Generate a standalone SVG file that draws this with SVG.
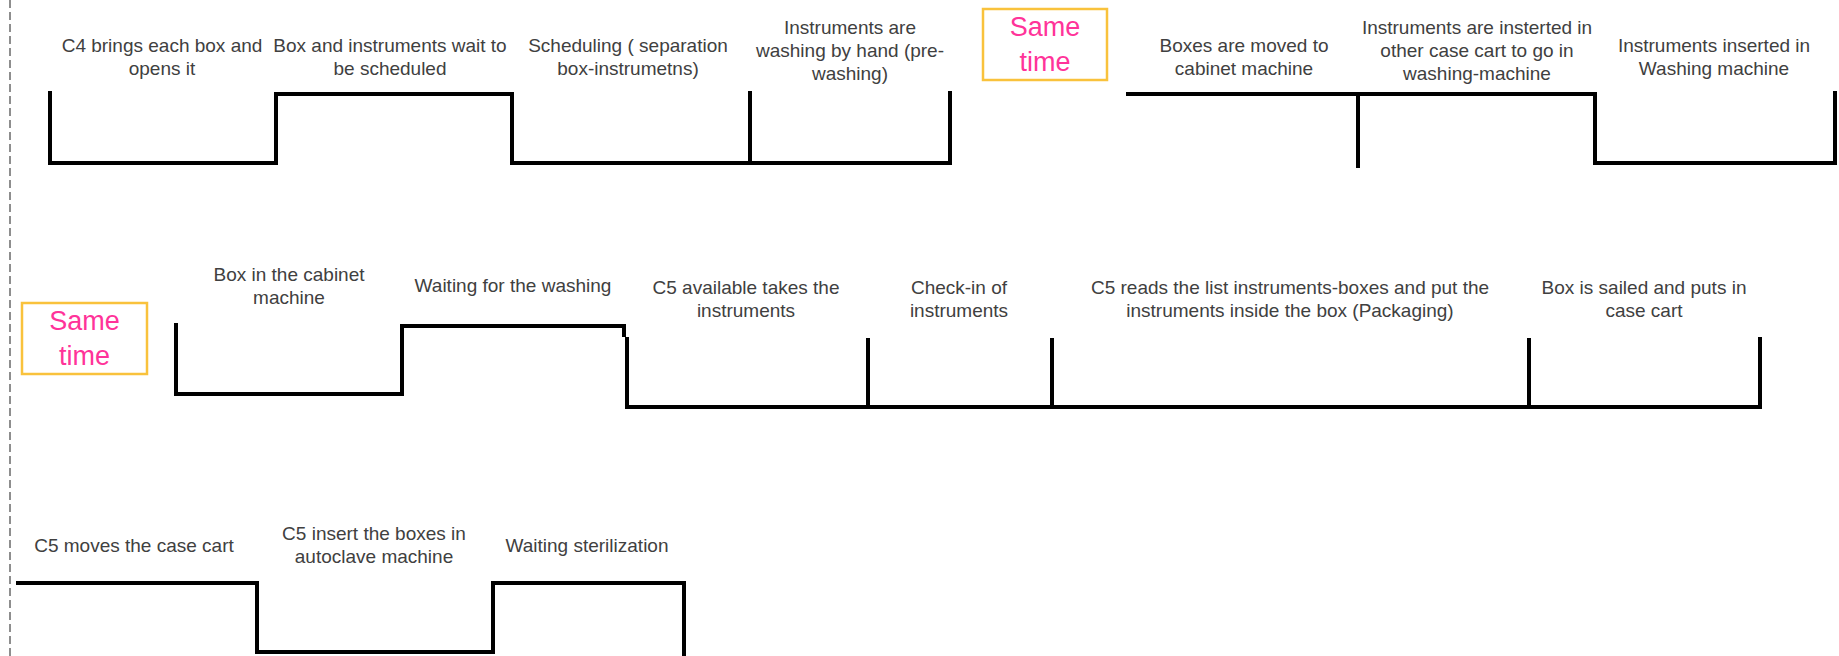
<svg xmlns="http://www.w3.org/2000/svg" width="1839" height="656" viewBox="0 0 1839 656">
<style>
.lbl{font-family:"Liberation Sans",Arial,sans-serif;font-size:19px;fill:#404040;text-anchor:middle}
.st{font-family:"Liberation Sans",Arial,sans-serif;font-size:27px;fill:#FF3399;text-anchor:middle}
.box{fill:#fff;stroke:#F9C23C;stroke-width:2.5}
.sig{fill:none;stroke:#000;stroke-width:4;stroke-linejoin:miter;stroke-linecap:butt}
</style>
<rect width="1839" height="656" fill="#fff"/>
<line x1="10" y1="0" x2="10" y2="656" stroke="#444" stroke-width="1.2" stroke-dasharray="8,4"/>
<g id="connectors">
<path class="sig" d="M50,91 V163 H276 V94 H512 V163 H950 V91"/>
<path class="sig" d="M750,91 V163"/>
<path class="sig" d="M1126,94 H1595 V163 H1835 V91"/>
<path class="sig" d="M1358,94 V168"/>
<path class="sig" d="M176,323 V394 H402 V326 H624 V337"/>
<path class="sig" d="M627,337 V407 H1760 V337"/>
<path class="sig" d="M868,338 V407"/>
<path class="sig" d="M1052,338 V407"/>
<path class="sig" d="M1529,338 V407"/>
<path class="sig" d="M16,583 H257 V652 H493 V583 H684 V656"/>
</g>
<g id="same-time-1"><rect class="box" x="983" y="9" width="124" height="71"/><text class="st" x="1045" y="36">Same</text><text class="st" x="1045" y="71">time</text></g>
<g id="same-time-2"><rect class="box" x="22" y="303" width="125" height="71"/><text class="st" x="84.5" y="330">Same</text><text class="st" x="84.5" y="365">time</text></g>
<g id="n1"><text class="lbl" x="162" y="52">C4 brings each box and</text><text class="lbl" x="162" y="75">opens it</text></g>
<g id="n2"><text class="lbl" x="390" y="52">Box and instruments wait to</text><text class="lbl" x="390" y="75">be scheduled</text></g>
<g id="n3"><text class="lbl" x="628" y="52">Scheduling ( separation</text><text class="lbl" x="628" y="75">box-instrumetns)</text></g>
<g id="n4"><text class="lbl" x="850" y="34">Instruments are</text><text class="lbl" x="850" y="57">washing by hand (pre-</text><text class="lbl" x="850" y="80">washing)</text></g>
<g id="n5"><text class="lbl" x="1244" y="52">Boxes are moved to</text><text class="lbl" x="1244" y="75">cabinet machine</text></g>
<g id="n6"><text class="lbl" x="1477" y="34">Instruments are insterted in</text><text class="lbl" x="1477" y="57">other case cart to go in</text><text class="lbl" x="1477" y="80">washing-machine</text></g>
<g id="n7"><text class="lbl" x="1714" y="52">Instruments inserted in</text><text class="lbl" x="1714" y="75">Washing machine</text></g>
<g id="n8"><text class="lbl" x="289" y="281">Box in the cabinet</text><text class="lbl" x="289" y="304">machine</text></g>
<g id="n9"><text class="lbl" x="513" y="292">Waiting for the washing</text></g>
<g id="n10"><text class="lbl" x="746" y="294">C5 available takes the</text><text class="lbl" x="746" y="317">instruments</text></g>
<g id="n11"><text class="lbl" x="959" y="294">Check-in of</text><text class="lbl" x="959" y="317">instruments</text></g>
<g id="n12"><text class="lbl" x="1290" y="294">C5 reads the list instruments-boxes and put the</text><text class="lbl" x="1290" y="317">instruments inside the box (Packaging)</text></g>
<g id="n13"><text class="lbl" x="1644" y="294">Box is sailed and puts in</text><text class="lbl" x="1644" y="317">case cart</text></g>
<g id="n14"><text class="lbl" x="134" y="552">C5 moves the case cart</text></g>
<g id="n15"><text class="lbl" x="374" y="540">C5 insert the boxes in</text><text class="lbl" x="374" y="563">autoclave machine</text></g>
<g id="n16"><text class="lbl" x="587" y="552">Waiting sterilization</text></g>
</svg>
